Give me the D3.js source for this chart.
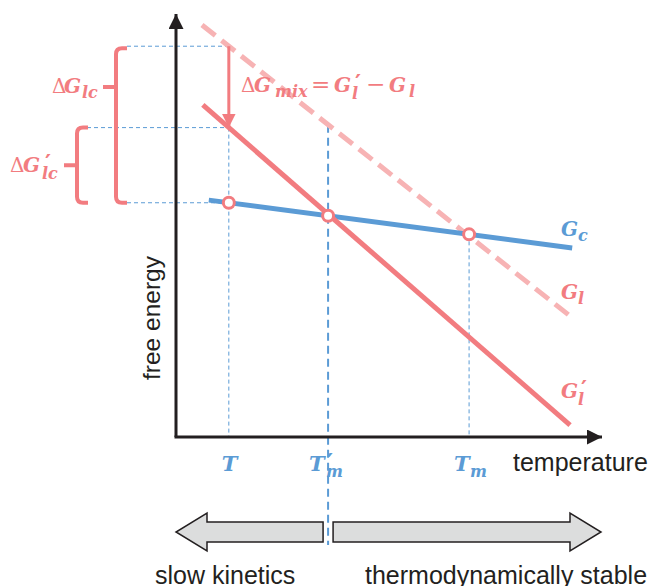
<!DOCTYPE html>
<html>
<head>
<meta charset="utf-8">
<script src="https://cdn.jsdelivr.net/npm/d3@7"></script>
<style>
  body { margin: 0; background: #fff; }
  svg { display: block; }
  .math { font-family: "DejaVu Serif", serif; font-style: italic; font-weight: bold; }
  .plain { font-family: "Liberation Sans", Arial, sans-serif; fill: #231f20; }
</style>
</head>
<body>
<svg width="651" height="586"></svg>
<script>
// line end points (temperature, free energy), arbitrary units
const gcLine = [[0.77, 5.60], [9.30, 4.47]];
const glLine = [[0.61, 9.74], [9.25, 2.86]];
const glPrimeLine = [[0.63, 7.85], [9.25, 0.28]];
// T, T'm, Tm
const keyTemps = [1.24, 3.57, 6.88];

const blue = "#5b9bd5", red = "#f27c80", pink = "#f7b3b4", ink = "#231f20";

const svg = d3.select("svg");
const x = d3.scaleLinear().domain([0, 10]).range([176, 602]);
const y = d3.scaleLinear().domain([0, 10]).range([437, 14]);

function valueAt(line, t) {
  return d3.scaleLinear().domain([line[0][0], line[1][0]]).range([line[0][1], line[1][1]])(t);
}

const T = keyTemps[0], Tmp = keyTemps[1], Tm = keyTemps[2];
const lvlGl = valueAt(glLine, T), lvlGlp = valueAt(glPrimeLine, T), lvlGc = valueAt(gcLine, T);

const defs = svg.append("defs");
defs.append("marker").attr("id", "axhead").attr("viewBox", "0 0 10 10")
  .attr("refX", 10).attr("refY", 5).attr("markerWidth", 5).attr("markerHeight", 5)
  .attr("markerUnits", "strokeWidth").attr("orient", "auto")
  .append("path").attr("d", "M0,0 L10,5 L0,10 Z").attr("fill", ink);
defs.append("marker").attr("id", "redhead").attr("viewBox", "0 0 10 10")
  .attr("refX", 10).attr("refY", 5).attr("markerWidth", 4.5).attr("markerHeight", 4.5)
  .attr("markerUnits", "strokeWidth").attr("orient", "auto")
  .append("path").attr("d", "M0,0 L10,5 L0,10 Z").attr("fill", red);

// guide lines
const thin = svg.append("g").attr("stroke", blue).attr("stroke-width", 1).attr("stroke-dasharray", "4,3").attr("fill", "none");
thin.append("line").attr("x1", 127).attr("x2", x(T)).attr("y1", y(lvlGl)).attr("y2", y(lvlGl));
thin.append("line").attr("x1", 87).attr("x2", x(T)).attr("y1", y(lvlGlp)).attr("y2", y(lvlGlp));
thin.append("line").attr("x1", 127).attr("x2", x(T)).attr("y1", y(lvlGc)).attr("y2", y(lvlGc));
thin.append("line").attr("x1", x(T)).attr("x2", x(T)).attr("y1", y(lvlGlp)).attr("y2", y(0));
thin.append("line").attr("x1", x(Tm)).attr("x2", x(Tm)).attr("y1", y(valueAt(gcLine, Tm))).attr("y2", y(0));

svg.append("line").attr("x1", x(Tmp)).attr("x2", x(Tmp))
  .attr("y1", y(valueAt(glLine, Tmp))).attr("y2", 545)
  .attr("stroke", blue).attr("stroke-width", 2).attr("stroke-dasharray", "8,5");

// axes
svg.append("line").attr("x1", x(0)).attr("y1", y(0)).attr("x2", x(0)).attr("y2", y(10))
  .attr("stroke", ink).attr("stroke-width", 3).attr("marker-end", "url(#axhead)");
svg.append("line").attr("x1", x(0) - 1.5).attr("y1", y(0)).attr("x2", x(10)).attr("y2", y(0))
  .attr("stroke", ink).attr("stroke-width", 3).attr("marker-end", "url(#axhead)");

// curves
const path = d3.line().x(d => x(d[0])).y(d => y(d[1]));
svg.append("path").attr("d", path(glLine)).attr("fill", "none").attr("stroke", pink)
  .attr("stroke-width", 5).attr("stroke-dasharray", "17,8");
svg.append("path").attr("d", path(gcLine)).attr("fill", "none").attr("stroke", blue).attr("stroke-width", 5);
svg.append("path").attr("d", path(glPrimeLine)).attr("fill", "none").attr("stroke", red).attr("stroke-width", 5);

// mixing arrow
svg.append("line").attr("x1", x(T)).attr("x2", x(T)).attr("y1", y(lvlGl)).attr("y2", y(lvlGlp))
  .attr("stroke", red).attr("stroke-width", 3).attr("marker-end", "url(#redhead)");

// markers
svg.selectAll("circle.key").data(keyTemps).join("circle").attr("class", "key")
  .attr("cx", d => x(d)).attr("cy", d => y(valueAt(gcLine, d))).attr("r", 5.5)
  .attr("fill", "#fff").attr("stroke", red).attr("stroke-width", 3);

// braces
function brace(xv, y0, y1, ym, xe, xn) {
  const r = 6;
  return `M${xe},${y0} H${xv + r} Q${xv},${y0} ${xv},${y0 + r} V${y1 - r} Q${xv},${y1} ${xv + r},${y1} H${xe}` +
         ` M${xv},${ym} H${xn}`;
}
svg.append("path").attr("d", brace(116, y(lvlGl) + 2, y(lvlGc), 87, 127, 103))
  .attr("fill", "none").attr("stroke", red).attr("stroke-width", 4);
svg.append("path").attr("d", brace(77, y(lvlGlp), y(lvlGc), (y(lvlGlp) + y(lvlGc)) / 2, 88, 64))
  .attr("fill", "none").attr("stroke", red).attr("stroke-width", 4);

// math labels: each part placed at offset (dx, dy) from the label origin
function mathLabel(px, py, parts, color, size) {
  const t = svg.append("text").attr("class", "math").attr("fill", color).attr("font-size", size || 20);
  parts.forEach(p => {
    const s = t.append("tspan").attr("x", px + p.dx).attr("y", py + (p.dy || 0)).text(p.t);
    if (p.size) s.attr("font-size", p.size);
    if (p.up) s.style("font-style", "normal").style("font-weight", "normal");
    if (p.pr) s.style("font-family", "DejaVu Sans").style("font-style", "normal");
  });
  return t;
}
const SUB = 16, PR = 23, PRY = -1;
mathLabel(50, 93, [{ t: "Δ", dx: 2, up: true }, { t: "G", dx: 14 }, { t: "lc", dx: 32, dy: 5, size: SUB }], red);
mathLabel(10, 172, [{ t: "Δ", dx: 0, up: true }, { t: "G", dx: 13 }, { t: "′", dx: 35, dy: PRY, size: PR, pr: true },
  { t: "lc", dx: 32, dy: 7, size: SUB }], red);
mathLabel(240, 92, [{ t: "Δ", dx: 1, up: true }, { t: "G", dx: 14 }, { t: "mix", dx: 35, dy: 5, size: SUB },
  { t: "=", dx: 71, up: true, size: 23 }, { t: "G", dx: 94 }, { t: "′", dx: 115, dy: PRY, size: PR, pr: true },
  { t: "l", dx: 112, dy: 7, size: SUB }, { t: "−", dx: 126, up: true, size: 23 }, { t: "G", dx: 149 },
  { t: "l", dx: 169, dy: 5, size: SUB }], red);
mathLabel(561, 236, [{ t: "G", dx: 0 }, { t: "c", dx: 17, dy: 5, size: SUB }], blue);
mathLabel(561, 299, [{ t: "G", dx: 0 }, { t: "l", dx: 17, dy: 5, size: SUB }], red);
mathLabel(561, 398, [{ t: "G", dx: 0 }, { t: "′", dx: 20, dy: PRY, size: PR, pr: true }, { t: "l", dx: 17, dy: 7, size: SUB }], red);

const tempLabels = [
  [{ t: "T", dx: -7 }],
  [{ t: "T", dx: -19 }, { t: "′", dx: -1, dy: PRY, size: PR, pr: true }, { t: "m", dx: -2, dy: 6, size: SUB }],
  [{ t: "T", dx: -15 }, { t: "m", dx: 1, dy: 6, size: SUB }]
];
keyTemps.forEach((k, i) => {
  mathLabel(x(k), 471, tempLabels[i], blue, 21);
});

// plain labels
svg.append("text").attr("class", "plain").attr("x", 513).attr("y", 471).attr("font-size", 25).text("temperature");
svg.append("text").attr("class", "plain").attr("transform", "translate(160,318) rotate(-90)")
  .attr("text-anchor", "middle").attr("font-size", 24.5).text("free energy");
svg.append("text").attr("class", "plain").attr("x", 155).attr("y", 584).attr("font-size", 25).text("slow kinetics");
svg.append("text").attr("class", "plain").attr("x", 365).attr("y", 584).attr("font-size", 25).text("thermodynamically stable");

// regime arrows
function blockArrow(xTail, xTip, cy) {
  const h = 10, hh = 19, dir = Math.sign(xTip - xTail), hl = 31;
  const xb = xTip - dir * hl;
  return `M${xTail},${cy - h} H${xb} V${cy - hh} L${xTip},${cy} L${xb},${cy + hh} V${cy + h} H${xTail} Z`;
}
svg.append("path").attr("d", blockArrow(x(Tmp) - 5, x(0), 532))
  .attr("fill", "#dcdddd").attr("stroke", ink).attr("stroke-width", 1.5);
svg.append("path").attr("d", blockArrow(x(Tmp) + 5, x(10) - 1, 532))
  .attr("fill", "#dcdddd").attr("stroke", ink).attr("stroke-width", 1.5);
</script>
</body>
</html>
